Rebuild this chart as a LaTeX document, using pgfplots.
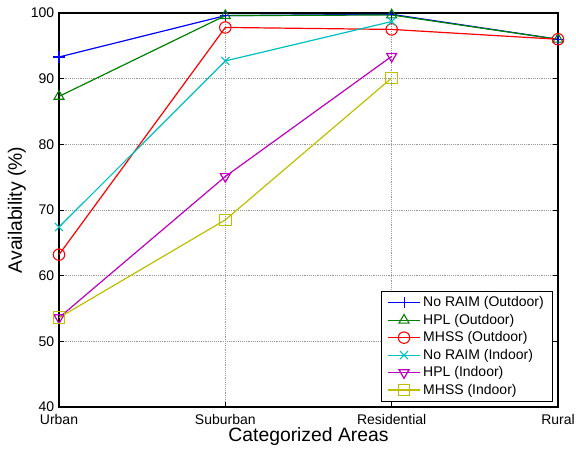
\documentclass[border=0pt]{standalone}
\usepackage{pgfplots}
\pgfplotsset{compat=1.18}
\usepackage{fontspec}
\setmainfont{Liberation Sans}

\definecolor{mblue}{rgb}{0,0,1}
\definecolor{mgreen}{rgb}{0,0.5,0}
\definecolor{mred}{rgb}{1,0,0}
\definecolor{mcyan}{rgb}{0,0.75,0.75}
\definecolor{mmagenta}{rgb}{0.75,0,0.75}
\definecolor{myellow}{rgb}{0.75,0.75,0}

\begin{document}
\begin{tikzpicture}[x=1pt,y=1pt]
\begin{axis}[
  name=ax,
  scale only axis,
  width=374.25pt, height=295.5pt,
  xmin=0, xmax=3, ymin=40, ymax=100,
  xtick={0,1,2,3},
  xticklabels={Urban,Suburban,Residential,Rural},
  ytick={40,50,...,100},
  grid=major,
  major grid style={densely dotted, gray!80, line width=0.6pt},
  axis line style={black, line width=1pt},
  tick align=inside,
  major tick length=3.75pt,
  tick style={black, line width=0.6pt},
  xtick pos=both, ytick pos=both,
  /pgf/number format/assume math mode=true,
  tick label style={font=\fontsize{10.5}{12}\selectfont},
  xticklabel style={yshift=-2pt},
  label style={font=\fontsize{14.5}{16}\selectfont},
  xlabel={Categorized Areas},
  ylabel={Availability (\%)},
  xlabel style={yshift=5pt},
  ylabel style={yshift=-3pt},
  every axis plot/.append style={line width=0.9pt, mark size=4.3pt, mark options={solid, line width=0.8pt}},
  legend style={
    at={(rel axis cs:1,0)}, anchor=south east,
    xshift=-3.75pt, yshift=3.75pt,
    draw=black, line width=0.75pt, fill=white,
    font=\fontsize{10.5}{12}\selectfont,
    row sep=0pt, inner ysep=2pt, inner xsep=4.5pt,
    cells={anchor=west},
  },
  legend image code/.code={
    \draw[mark repeat=2, mark phase=2] plot coordinates {(0cm,0cm) (0.42cm,0cm) (0.84cm,0cm)};
  },
]
% outdoor
\addplot[color=mblue, mark=+] coordinates {(0,93.3) (1,99.6) (2,99.8) (3,96.0)};
\addlegendentry{No RAIM (Outdoor)}
\addplot[color=mgreen, mark=triangle] coordinates {(0,87.3) (1,99.6) (2,99.7) (3,96.0)};
\addlegendentry{HPL (Outdoor)}
\addplot[color=mred, mark=o] coordinates {(0,63.2) (1,97.8) (2,97.5) (3,96.0)};
\addlegendentry{MHSS (Outdoor)}
% indoor
\addplot[color=mcyan, mark=x] coordinates {(0,67.4) (1,92.7) (2,98.7)};
\addlegendentry{No RAIM (Indoor)}
\addplot[color=mmagenta, mark=triangle, mark options={rotate=180}] coordinates {(0,53.6) (1,75.1) (2,93.4)};
\addlegendentry{HPL (Indoor)}
\addplot[color=myellow, mark=square] coordinates {(0,53.6) (1,68.5) (2,90.1)};
\addlegendentry{MHSS (Indoor)}
\end{axis}
\pgfresetboundingbox
\path[use as bounding box] ([xshift=-44.25pt, yshift=-31.5pt]ax.south west) rectangle ([xshift=13.5pt, yshift=9.75pt]ax.north east);
\end{tikzpicture}
\end{document}
